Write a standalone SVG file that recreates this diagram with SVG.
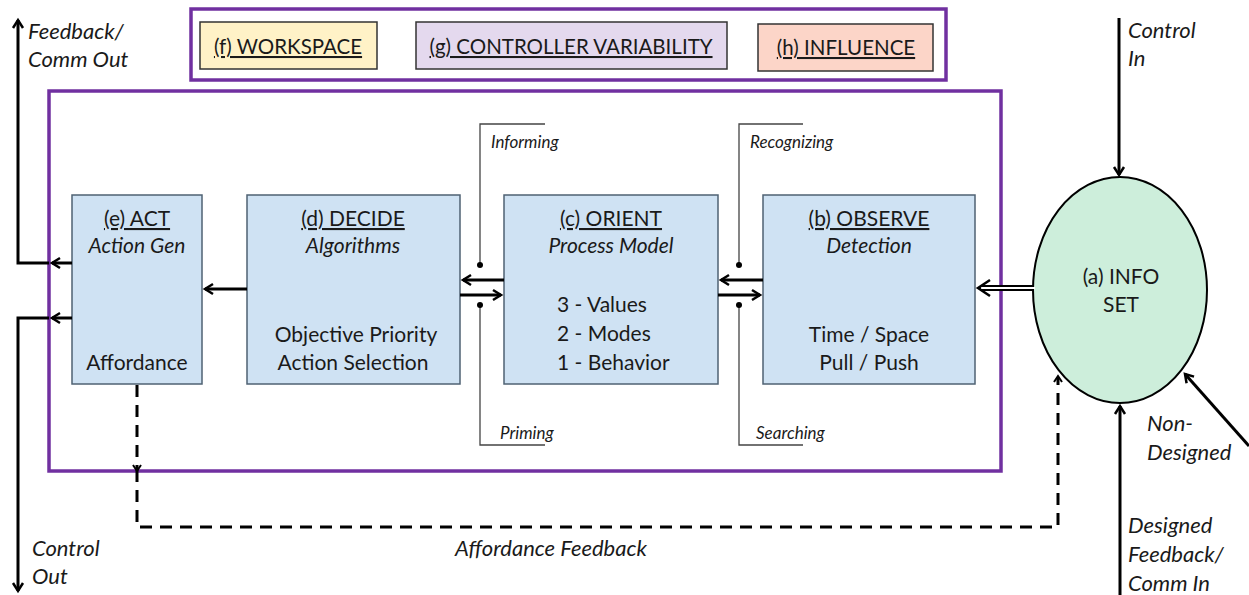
<svg xmlns="http://www.w3.org/2000/svg" width="1249" height="595" viewBox="0 0 1249 595">
<style>
.t{font-family:Lato,"Open Sans","Liberation Sans",sans-serif;fill:#1a1a1a}
.n{font-size:21px;text-anchor:middle}
.h{font-size:20.5px;text-anchor:middle}
.i{font-style:italic}
.u{text-decoration:underline}
.lab{font-size:22px;font-style:italic}
.sm{font-size:17px;font-style:italic}
.blue{fill:#cfe2f3;stroke:#4f6273;stroke-width:1.5}
.purp{fill:none;stroke:#7030a0;stroke-width:3.5}
.ln{fill:none;stroke:#000;stroke-width:3}
.thin{fill:none;stroke:#444;stroke-width:1.3}
</style>
<defs>
<marker id="ah" markerWidth="14" markerHeight="14" refX="10" refY="7" orient="auto" markerUnits="userSpaceOnUse">
<path d="M2,2 L10,7 L2,12" fill="none" stroke="#000" stroke-width="2.5"/>
</marker>
<marker id="ahs" markerWidth="12" markerHeight="12" refX="6" refY="6" orient="auto" markerUnits="userSpaceOnUse">
<path d="M1,2 L7,6 L1,10" fill="none" stroke="#000" stroke-width="2"/>
</marker>
</defs>
<rect width="1249" height="595" fill="#fff"/>

<g id="frames">
<rect class="purp" x="191" y="9" width="755" height="71"/>
<rect class="purp" x="49" y="91" width="952" height="380"/>
</g>

<g id="workspace">
<rect x="200" y="22" width="177" height="47" fill="#fff2c7" stroke="#333" stroke-width="1.5"/>
<text class="t h u" x="288" y="54">(f) WORKSPACE</text>
</g>
<g id="variability">
<rect x="416" y="22" width="311" height="47" fill="#e4d9ee" stroke="#333" stroke-width="1.5"/>
<text class="t h u" x="571" y="54">(g) CONTROLLER VARIABILITY</text>
</g>
<g id="influence">
<rect x="758" y="24" width="175" height="47" fill="#fcd5c8" stroke="#333" stroke-width="1.5"/>
<text class="t h u" x="846" y="55">(h) INFLUENCE</text>
</g>

<g id="act">
<rect class="blue" x="72" y="195" width="130" height="189"/>
<text class="t n u" x="137" y="226">(e) ACT</text>
<text class="t n i" x="137" y="253">Action Gen</text>
<text class="t n" x="137" y="370">Affordance</text>
</g>
<g id="decide">
<rect class="blue" x="247" y="195" width="213" height="189"/>
<text class="t n u" x="353" y="226">(d) DECIDE</text>
<text class="t n i" x="353" y="253">Algorithms</text>
<text class="t n" x="356" y="342">Objective Priority</text>
<text class="t n" x="353" y="370">Action Selection</text>
</g>
<g id="orient">
<rect class="blue" x="504" y="195" width="214" height="189"/>
<text class="t n u" x="611" y="226">(c) ORIENT</text>
<text class="t n i" x="611" y="253">Process Model</text>
<text class="t" font-size="21" x="557" y="312">3 - Values</text>
<text class="t" font-size="21" x="557" y="341">2 - Modes</text>
<text class="t" font-size="21" x="557" y="370">1 - Behavior</text>
</g>
<g id="observe">
<rect class="blue" x="763" y="195" width="212" height="189"/>
<text class="t n u" x="869" y="226">(b) OBSERVE</text>
<text class="t n i" x="869" y="253">Detection</text>
<text class="t n" x="869" y="342">Time / Space</text>
<text class="t n" x="869" y="370">Pull / Push</text>
</g>
<g id="infoset">
<ellipse cx="1120" cy="290" rx="87" ry="113" fill="#cdeedb" stroke="#000" stroke-width="2"/>
<text class="t n" x="1121" y="284">(a) INFO</text>
<text class="t n" x="1121" y="312">SET</text>
</g>

<g id="connectors">
<path class="ln" d="M72,263 H52" marker-end="url(#ah)"/>
<path class="ln" d="M49,263 H18 V20" marker-end="url(#ah)"/>
<path class="ln" d="M72,318 H52" marker-end="url(#ah)"/>
<path class="ln" d="M49,318 H18 V591" marker-end="url(#ah)"/>
<path class="ln" d="M247,289 H205" marker-end="url(#ah)"/>
<path class="ln" d="M504,280 H463" marker-end="url(#ah)"/>
<path class="ln" d="M460,295 H501" marker-end="url(#ah)"/>
<path class="ln" d="M763,280 H721" marker-end="url(#ah)"/>
<path class="ln" d="M718,295 H760" marker-end="url(#ah)"/>
<path d="M1034,288 H980" stroke="#000" stroke-width="6" fill="none"/>
<path d="M1035,288 H981" stroke="#fff" stroke-width="2" fill="none"/>
<path d="M990,280 L978,288 L990,296" fill="none" stroke="#000" stroke-width="2.5"/>
<path class="ln" d="M1119,18 V175" marker-end="url(#ah)"/>
<path class="ln" d="M1120,595 V406" marker-end="url(#ah)"/>
<path class="ln" d="M1249,446 L1185,374" marker-end="url(#ah)"/>
<path d="M137,385 V470" fill="none" stroke="#000" stroke-width="3" stroke-dasharray="12,8" marker-end="url(#ahs)"/>
<path d="M137,470 V527 H1058 V377" fill="none" stroke="#000" stroke-width="3" stroke-dasharray="12,8" marker-end="url(#ahs)"/>
<path class="thin" d="M545,124 H480 V265"/>
<circle cx="480" cy="265" r="3" fill="#000"/>
<path class="thin" d="M480,305 V445 H545"/>
<circle cx="480" cy="305" r="3" fill="#000"/>
<path class="thin" d="M803,124 H739 V265"/>
<circle cx="739" cy="265" r="3" fill="#000"/>
<path class="thin" d="M739,305 V445 H803"/>
<circle cx="739" cy="305" r="3" fill="#000"/>
</g>

<g id="labels">
<text class="t sm" x="491" y="148">Informing</text>
<text class="t sm" x="500" y="439">Priming</text>
<text class="t sm" x="750" y="148">Recognizing</text>
<text class="t sm" x="756" y="439">Searching</text>
<text class="t lab" x="28" y="39">Feedback/</text>
<text class="t lab" x="28" y="67">Comm Out</text>
<text class="t lab" x="32" y="556">Control</text>
<text class="t lab" x="32" y="584">Out</text>
<text class="t lab" x="1128" y="38">Control</text>
<text class="t lab" x="1128" y="66">In</text>
<text class="t lab" x="1147" y="431">Non-</text>
<text class="t lab" x="1147" y="460">Designed</text>
<text class="t lab" x="1128" y="533">Designed</text>
<text class="t lab" x="1128" y="562">Feedback/</text>
<text class="t lab" x="1128" y="591">Comm In</text>
<text class="t lab" x="551" y="556" text-anchor="middle">Affordance Feedback</text>
</g>
</svg>
